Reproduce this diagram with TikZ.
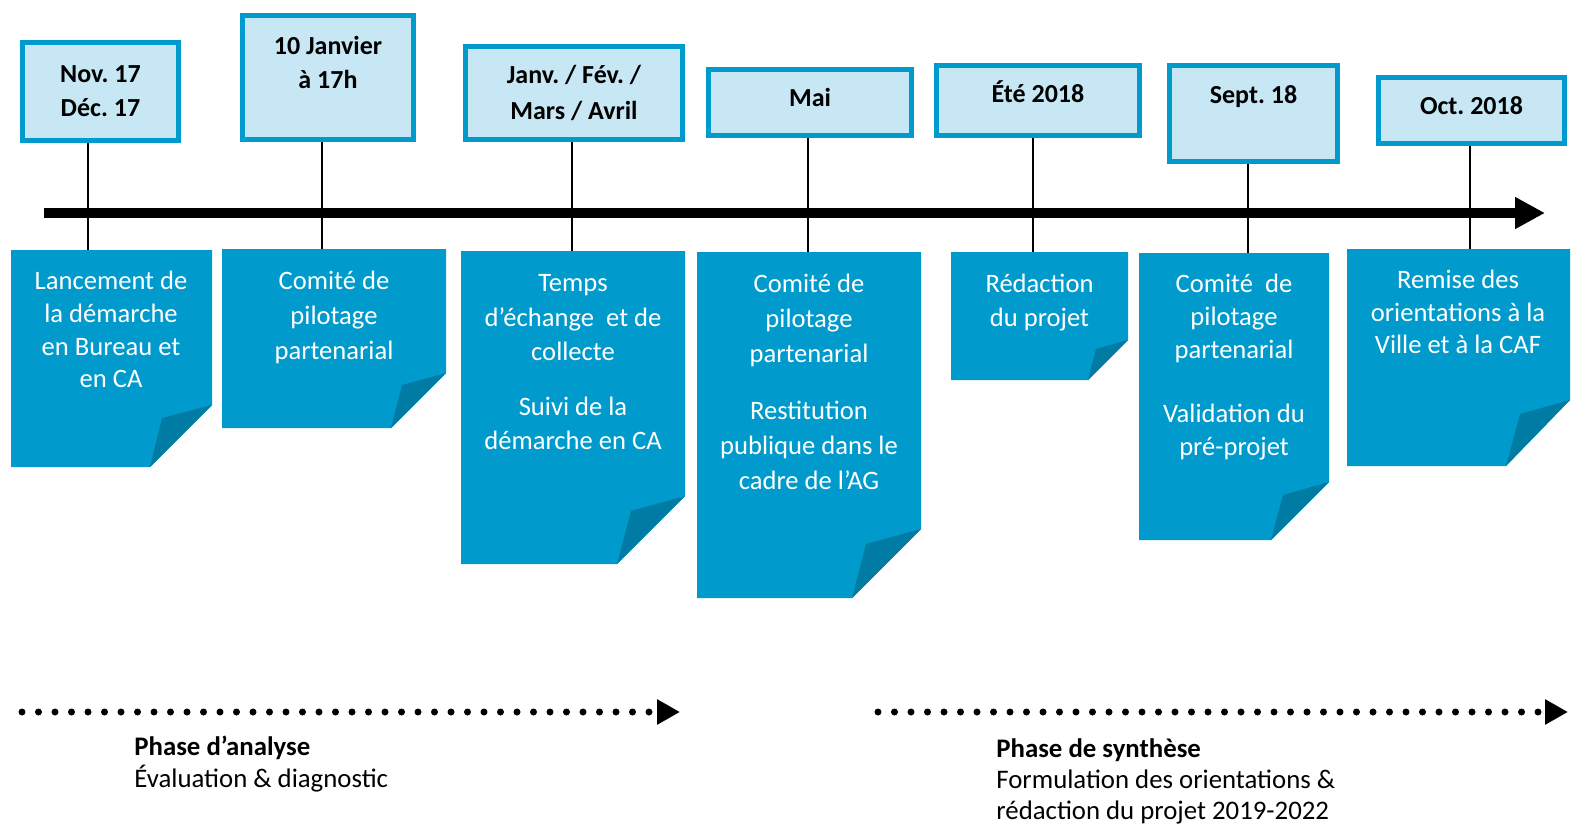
\documentclass[tikz,border=0pt]{standalone}
\usepackage{fontspec}
\setmainfont{Carlito}
\usetikzlibrary{arrows.meta}
\definecolor{noteblue}{RGB}{0,155,204}
\definecolor{folddark}{RGB}{0,123,164}
\definecolor{datefill}{RGB}{198,231,243}
\frenchspacing
\tikzset{
  datebox/.style={draw=noteblue, fill=datefill, line width=2.5pt, inner sep=0pt, align=center, font=\fontsize{13}{17}\selectfont\bfseries},
  notetext/.style={anchor=north, inner sep=0pt, align=center, text=white, font=\fontsize{13.3}{17}\selectfont},
  phasetext/.style={anchor=north west, inner sep=0pt, align=left, font=\fontsize{13.4}{16}\selectfont},
  link/.style={line width=0.75pt},
  dotline/.style={line width=3.5pt, line cap=round, dash pattern=on 0pt off 8.25pt, -{Triangle[length=11.5pt,width=12pt]}},
}
\begin{document}
\begin{tikzpicture}[x=0.5pt,y=-0.5pt]
\useasboundingbox (0,0) rectangle (1575,825);
%Notes
\fill[noteblue] (11,250) -- (212,250) -- (212,405) -- (150,467) -- (11,467) -- cycle;
\fill[folddark] (212,405) -- (162,418) -- (150,467) -- cycle;
\fill[noteblue] (222,249) -- (446,249) -- (446,373) -- (391,428) -- (222,428) -- cycle;
\fill[folddark] (446,373) -- (402,385) -- (391,428) -- cycle;
\fill[noteblue] (461,251) -- (685,251) -- (685,496) -- (617,564) -- (461,564) -- cycle;
\fill[folddark] (685,496) -- (631,511) -- (617,564) -- cycle;
\fill[noteblue] (697,252) -- (921,252) -- (921,529) -- (852,598) -- (697,598) -- cycle;
\fill[folddark] (921,529) -- (866,544) -- (852,598) -- cycle;
\fill[noteblue] (951,252) -- (1128,252) -- (1128,340) -- (1088,380) -- (951,380) -- cycle;
\fill[folddark] (1128,340) -- (1096,349) -- (1088,380) -- cycle;
\fill[noteblue] (1139,253) -- (1329,253) -- (1329,482) -- (1271,540) -- (1139,540) -- cycle;
\fill[folddark] (1329,482) -- (1283,495) -- (1271,540) -- cycle;
\fill[noteblue] (1347,249) -- (1570,249) -- (1570,400) -- (1506,466) -- (1347,466) -- cycle;
\fill[folddark] (1570,400) -- (1520,414) -- (1506,466) -- cycle;
%Dates
\node[datebox, minimum width=78pt, minimum height=49pt] (d1) at (100.5,91.5) {Nov. 17\\Déc. 17};
\node[datebox, minimum width=85.5pt, minimum height=62pt] (d2) at (328,77.5) {10 Janvier\\à 17h\\[-2pt]\mbox{}};
\node[datebox, minimum width=108.5pt, minimum height=46.5pt] (d3) at (574,93) {Janv. / Fév. /\\[1pt]Mars / Avril};
\node[datebox, minimum width=101.5pt, minimum height=33pt, text height=9pt, text depth=5.1pt] (d4) at (810,102.5) {Mai};
\node[datebox, minimum width=101.5pt, minimum height=35pt, text height=9pt, text depth=7.1pt] (d5) at (1038,100.5) {Été 2018};
\node[datebox, minimum width=84pt, minimum height=48pt] (d6) at (1253.5,113.5) {Sept. 18\\[2pt]\mbox{}};
\node[datebox, minimum width=93pt, minimum height=33pt, text height=9pt, text depth=5.1pt] (d7) at (1471.5,110.5) {Oct. 2018};
%Timeline
\coordinate (t0) at (44,213);
\coordinate (t1) at (1545,213);
\draw[line width=5pt, -{Triangle[length=15pt,width=15pt]}] (t0) -- (t1);
%Links
\coordinate (n1top) at (88,250);
\coordinate (n2top) at (322,249);
\coordinate (n3top) at (572,251);
\coordinate (n4top) at (808,252);
\coordinate (n5top) at (1033,252);
\coordinate (n6top) at (1248,253);
\coordinate (n7top) at (1470,249);
\draw[link] (d1.south -| n1top) -- (n1top);
\draw[link] (d2.south -| n2top) -- (n2top);
\draw[link] (d3.south -| n3top) -- (n3top);
\draw[link] (d4.south -| n4top) -- (n4top);
\draw[link] (d5.south -| n5top) -- (n5top);
\draw[link] (d6.south -| n6top) -- (n6top);
\draw[link] (d7.south -| n7top) -- (n7top);
%Text
\node[notetext, font=\fontsize{13.3}{16.3}\selectfont] (n1) at (111,271) {Lancement de\\la démarche\\en Bureau et\\en CA};
\node[notetext, font=\fontsize{13.3}{17.3}\selectfont] (n2) at (334,271) {Comité de\\pilotage\\partenarial};
\node[notetext, font=\fontsize{13.3}{17.3}\selectfont] (n3) at (573,274) {Temps\\d’échange~ et de\\collecte\\[10pt]Suivi de la\\démarche en CA};
\node[notetext, font=\fontsize{13.3}{17.5}\selectfont] (n4) at (809,274) {Comité de\\pilotage\\partenarial\\[11pt]Restitution\\publique dans le\\cadre de l’AG};
\node[notetext] (n5) at (1039.5,274) {Rédaction\\du projet};
\node[notetext, font=\fontsize{13.3}{16.3}\selectfont] (n6) at (1234,274) {Comité~ de\\pilotage\\partenarial\\[16pt]Validation du\\pré-projet};
\node[notetext, font=\fontsize{13.3}{16.2}\selectfont] (n7) at (1458,270) {Remise des\\orientations à la\\Ville et à la CAF};
%Phases
\coordinate (p1a) at (22,712);
\coordinate (p1b) at (680,712);
\draw[dotline] (p1a) -- (p1b);
\coordinate (p2a) at (878,712);
\coordinate (p2b) at (1568,712);
\draw[dotline] (p2a) -- (p2b);
\node[phasetext] (ph1) at (134,736) {\textbf{Phase d’analyse}\\Évaluation \& diagnostic};
\node[phasetext, font=\fontsize{13.4}{15.6}\selectfont] (ph2) at (996,738) {\textbf{Phase de synthèse}\\Formulation des orientations \&\\rédaction du projet 2019-2022};
\end{tikzpicture}
\end{document}
